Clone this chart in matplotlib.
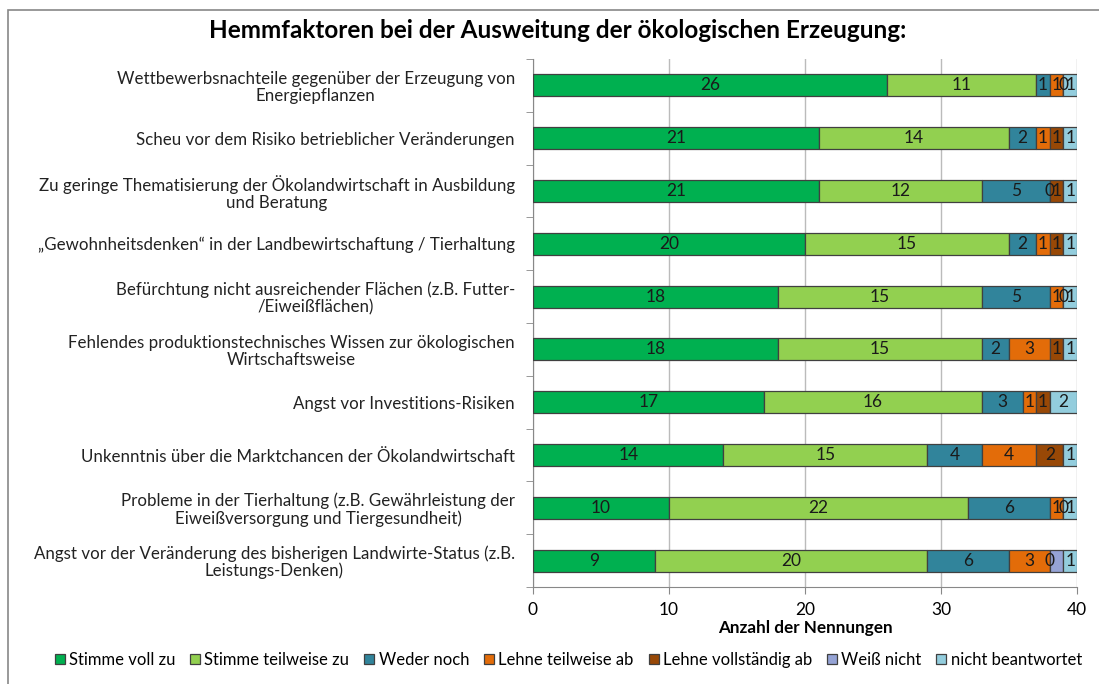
import matplotlib
matplotlib.use("Agg")
import matplotlib.pyplot as plt
from matplotlib.patches import Rectangle
import numpy as np

plt.rcParams['font.family'] = ['Lato', 'DejaVu Sans']

categories = [
    "Wettbewerbsnachteile gegenüber der Erzeugung von\nEnergiepflanzen",
    "Scheu vor dem Risiko betrieblicher Veränderungen",
    "Zu geringe Thematisierung der Ökolandwirtschaft in Ausbildung\nund Beratung",
    "\u201eGewohnheitsdenken\u201c in der Landbewirtschaftung / Tierhaltung",
    "Befürchtung nicht ausreichender Flächen (z.B. Futter-\n/Eiweißflächen)",
    "Fehlendes produktionstechnisches Wissen zur ökologischen\nWirtschaftsweise",
    "Angst vor Investitions-Risiken",
    "Unkenntnis über die Marktchancen der Ökolandwirtschaft",
    "Probleme in der Tierhaltung (z.B. Gewährleistung der\nEiweißversorgung und Tiergesundheit)",
    "Angst vor der Veränderung des bisherigen Landwirte-Status (z.B.\nLeistungs-Denken)",
]

series_names = ["Stimme voll zu", "Stimme teilweise zu", "Weder noch",
                "Lehne teilweise ab", "Lehne vollständig ab", "Weiß nicht",
                "nicht beantwortet"]

voll_zu = [26, 21, 21, 20, 18, 18, 17, 14, 10, 9]
teilweise_zu = [11, 14, 12, 15, 15, 15, 16, 15, 22, 20]
weder_noch = [1, 2, 5, 2, 5, 2, 3, 4, 6, 6]
lehne_teilweise = [1, 1, 0, 1, 1, 3, 1, 4, 1, 3]
lehne_voll = [0, 1, 1, 1, 0, 1, 1, 2, 0, 0]
weiss_nicht = [0, 0, 0, 0, 0, 0, 0, 0, 0, 1]
nicht_beantwortet = [1, 1, 1, 1, 1, 1, 2, 1, 1, 1]

series = [voll_zu, teilweise_zu, weder_noch, lehne_teilweise,
          lehne_voll, weiss_nicht, nicht_beantwortet]
colors = ["#00B050", "#92D050", "#31849B", "#E36C09", "#984806",
          "#95A3D5", "#93CDDD"]
show_labels = [True, True, True, True, True, False, True]

fig = plt.figure(figsize=(10.99, 6.84), dpi=100)
ax = fig.add_axes([533/1099, 1 - 587/684, (1077 - 533)/1099, (587 - 59)/684])

y = np.arange(len(categories))
left = np.zeros(len(categories))
for name, vals, col, lab in zip(series_names, series, colors, show_labels):
    vals = np.array(vals, dtype=float)
    bars = ax.barh(y, vals, left=left, height=0.42, color=col,
                   edgecolor="#404040", linewidth=0.9, label=name, zorder=3)
    if lab:
        ax.bar_label(bars, labels=[str(int(v)) for v in vals],
                     label_type='center', fontsize=12.5, color="#1a1a1a", zorder=4)
    left += vals

ax.set_xlim(0, 40)
ax.set_ylim(len(categories) - 0.5, -0.5)
ax.set_xticks([0, 10, 20, 30, 40])
ax.set_yticks(y)
ax.set_yticklabels(categories, fontsize=12.2, color="#222222", linespacing=1.05)
for t in ax.get_yticklabels():
    t.set_multialignment('center')
ax.set_yticks(np.arange(-0.5, len(categories)), minor=True)
ax.tick_params(axis='y', which='major', length=0, pad=13)
ax.tick_params(axis='y', which='minor', length=5, color="#888888")
ax.tick_params(axis='x', length=5, color="#888888", labelsize=12.5, pad=6)
ax.xaxis.grid(True, color="#BBBBBB", linewidth=1, zorder=0)
ax.set_axisbelow(True)
for s in ['top', 'right']:
    ax.spines[s].set_visible(False)
for s in ['left', 'bottom']:
    ax.spines[s].set_color("#888888")

ax.set_xlabel("Anzahl der Nennungen", fontsize=12.3, fontweight='bold', labelpad=1)

fig.text(0.507, 0.955, "Hemmfaktoren bei der Ausweitung der ökologischen Erzeugung:",
         ha='center', va='center', fontsize=17.5, fontweight='bold')

fig.legend(loc='center', bbox_to_anchor=(0.517, 0.035), ncol=7, frameon=False,
           fontsize=12, handlelength=0.6, handleheight=0.6, handletextpad=0.25,
           columnspacing=0.9)

fig.patches.append(Rectangle((8/1099, -0.05), 1.2, 1 - 10/684 + 0.05,
                             transform=fig.transFigure, fill=False,
                             edgecolor="#888888", linewidth=1.2))

fig.savefig("out.png", dpi=100)
